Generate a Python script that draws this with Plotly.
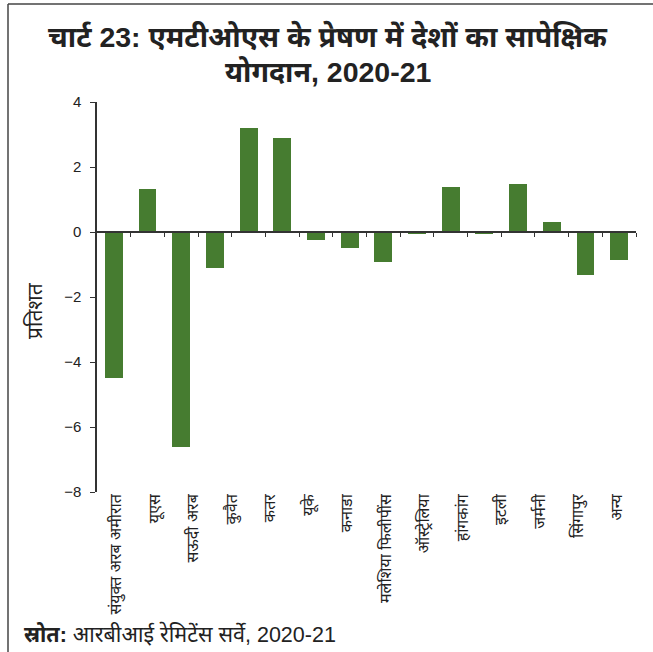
import plotly.graph_objects as go

# Relative contribution (per cent) of source countries, 2020-21
bar_values = [-4.5, 1.32, -6.6, -1.1, 3.2, 2.88, -0.25, -0.5, -0.93,
              -0.04, 1.37, -0.04, 1.49, 0.32, -1.33, -0.86]
bar_positions = list(range(len(bar_values)))

category_labels = ["संयुक्त अरब अमीरात", "यूएस", "सऊदी अरब", "कुवैत", "कतर", "यूके",
                   "कनाडा", "मलेशिया फिलीपींस", "ऑस्ट्रेलिया", "हांगकांग", "इटली",
                   "जर्मनी", "सिंगापुर", "अन्य"]
label_positions = list(range(len(category_labels)))

y_ticks = [-8, -6, -4, -2, 0, 2, 4]

W, H = 653, 652
ML, MR, MT, MB = 97, 17, 102, 160
PW, PH = W - ML - MR, H - MT - MB

FONT = "Liberation Sans, Arial, Noto Sans Devanagari, Noto Sans, sans-serif"
BAR_COLOR = "#467C30"
AXIS_COLOR = "#333333"
TEXT_COLOR = "#222222"


def px_x(px):
    return (px - ML) / PW


def px_y(py):
    return 1 - (py - MT) / PH


fig = go.Figure()
fig.add_trace(go.Bar(
    x=bar_positions, y=bar_values, width=0.53,
    marker=dict(color=BAR_COLOR, line=dict(width=0)),
    xaxis="x", yaxis="y", showlegend=False, hoverinfo="y",
))
# Carrier trace so the category-label axis is drawn
fig.add_trace(go.Scatter(
    x=label_positions, y=[None] * len(label_positions),
    xaxis="x2", yaxis="y", mode="markers", showlegend=False, hoverinfo="skip",
))

y_min, y_max = y_ticks[0], y_ticks[-1]
zero_frac = (0 - y_min) / (y_max - y_min)

fig.update_layout(
    width=W, height=H,
    margin=dict(l=ML, r=MR, t=MT, b=MB, pad=0),
    paper_bgcolor="white", plot_bgcolor="white",
    font=dict(family=FONT, color=TEXT_COLOR, size=14),
    bargap=0,
    xaxis=dict(
        range=[-0.5, len(bar_values) - 0.5],
        anchor="free", position=zero_frac,
        showline=True, linecolor=AXIS_COLOR, linewidth=1.5,
        ticks="outside", ticklen=4, tickcolor=AXIS_COLOR, tickwidth=1.3,
        tickmode="array", tickvals=[p + 0.5 for p in bar_positions],
        showticklabels=False, showgrid=False, zeroline=False,
        fixedrange=True,
    ),
    xaxis2=dict(
        overlaying="x", anchor="y", side="bottom",
        range=[-0.5, len(category_labels) - 0.5],
        tickmode="array", tickvals=label_positions,
        ticktext=category_labels, tickangle=-90,
        tickfont=dict(size=16, color=TEXT_COLOR),
        ticklabelstandoff=-2,
        showline=False, ticks="", showgrid=False, zeroline=False,
    ),
    yaxis=dict(
        range=[y_min, y_max],
        tickmode="array", tickvals=y_ticks,
        ticks="outside", ticklen=5, tickcolor=AXIS_COLOR, tickwidth=1.3,
        ticklabelstandoff=6,
        showline=True, linecolor=AXIS_COLOR, linewidth=1.5,
        showgrid=False, zeroline=False,
        tickfont=dict(size=15, color=TEXT_COLOR),
    ),
)

# Y-axis title
fig.add_annotation(
    text="प्रतिशत", textangle=-90,
    xref="paper", yref="paper", x=px_x(34), y=px_y(311),
    xanchor="center", yanchor="middle", showarrow=False,
    font=dict(size=21, color=TEXT_COLOR, family=FONT),
)

# Title lines
fig.add_annotation(
    text="<b>चार्ट 23: एमटीओएस के प्रेषण में देशों का सापेक्षिक</b>",
    xref="paper", yref="paper", x=px_x(328), y=px_y(37),
    xanchor="center", yanchor="middle", showarrow=False,
    font=dict(size=28.5, color=TEXT_COLOR, family=FONT),
)
fig.add_annotation(
    text="<b>योगदान, 2020-21</b>",
    xref="paper", yref="paper", x=px_x(328), y=px_y(72),
    xanchor="center", yanchor="middle", showarrow=False,
    font=dict(size=28.5, color=TEXT_COLOR, family=FONT),
)

# Source note
fig.add_annotation(
    text="<b>स्रोत:</b> आरबीआई रेमिटेंस सर्वे, 2020-21",
    xref="paper", yref="paper", x=px_x(22), y=px_y(634),
    xanchor="left", yanchor="middle", showarrow=False,
    font=dict(size=21.5, color=TEXT_COLOR, family=FONT),
)

# Frame lines along the top and left edges
fig.add_shape(type="line", xref="paper", yref="paper",
              x0=px_x(8), y0=px_y(4), x1=px_x(W), y1=px_y(4),
              line=dict(color="#444444", width=1.5))
fig.add_shape(type="line", xref="paper", yref="paper",
              x0=px_x(8), y0=px_y(4), x1=px_x(8), y1=px_y(H),
              line=dict(color="#444444", width=1.5))

fig.write_html("out.html")
